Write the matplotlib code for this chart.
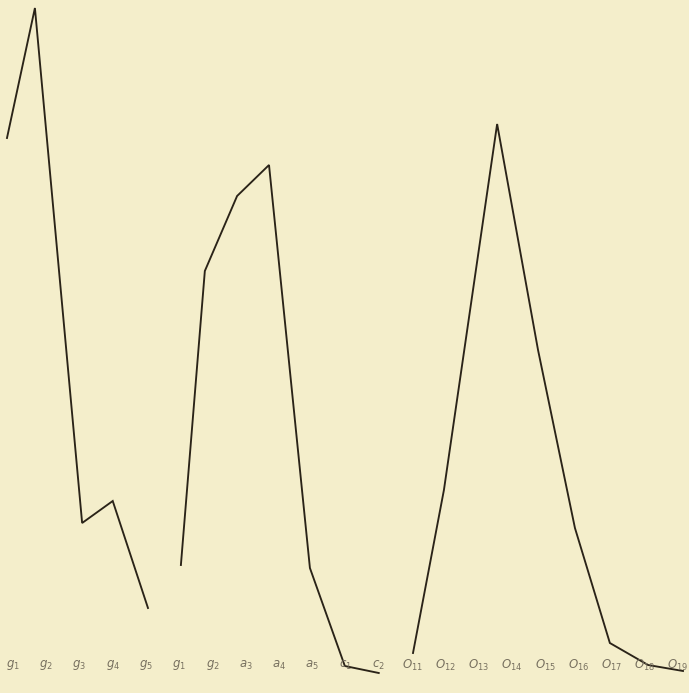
import numpy as np
import matplotlib.pyplot as plt

# Values (height above the bottom edge, in chart units).
# x is position along the row of labels (0 = first label).
g1_x = [-0.18, 0.66, 2.08, 3.0, 4.06]
g1_y = [555, 685, 170, 192, 85]

g2_x = [5.05, 5.77, 6.74, 7.70, 8.93, 9.98, 11.0]
g2_y = [128, 422, 497, 528, 125, 27, 20]

g3_x = [12.03, 12.96, 14.56, 15.79, 16.90, 17.95, 19.10, 20.15]
g3_y = [40, 203, 569, 343, 165, 50, 28, 22]

labels = ['$g_1$', '$g_2$', '$g_3$', '$g_4$', '$g_5$',
          '$g_1$', '$g_2$', '$a_3$', '$a_4$', '$a_5$', '$c_1$', '$c_2$',
          '$O_{11}$', '$O_{12}$', '$O_{13}$', '$O_{14}$', '$O_{15}$',
          '$O_{16}$', '$O_{17}$', '$O_{18}$', '$O_{19}$']

paper = '#f4eecb'
ink = '#2a2318'

fig = plt.figure(figsize=(6.89, 6.93), dpi=100, facecolor=paper)
ax = fig.add_axes([0, 0, 1, 1], facecolor=paper)

for xs, ys in [(g1_x, g1_y), (g2_x, g2_y), (g3_x, g3_y)]:
    ax.plot(xs, ys, color=ink, lw=1.35, solid_joinstyle='miter')

# handwritten-looking labels along the bottom
for i, lab in enumerate(labels):
    ax.text(i, 28, lab, ha='center', va='center', fontsize=8.5,
            color='#77705f', style='italic')

ax.set_xlim(-0.39, 20.33)
ax.set_ylim(0, 693)
ax.axis('off')

fig.savefig('out.png', dpi=100, facecolor=paper)
